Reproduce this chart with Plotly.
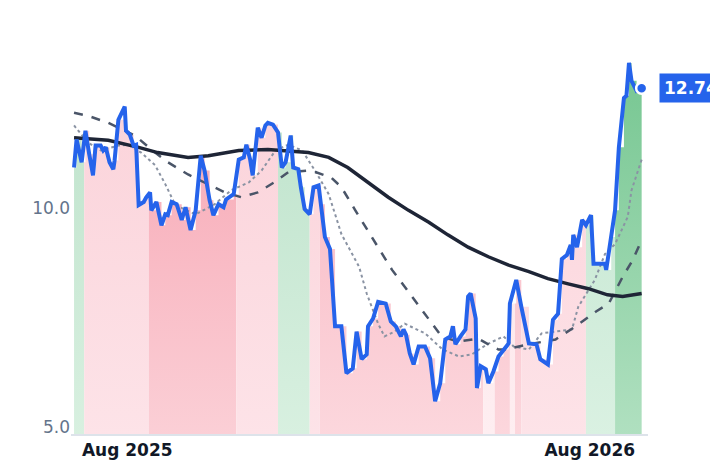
import pandas as pd
import plotly.graph_objects as go

start = pd.Timestamp("2025-06-20")

price_days = [0,2,6,9,12,15,17,21,23,25,28,31,32,35,40,41,44,47,49,51,55,57,60,61,65,69,72,74,77,81,85,88,92,96,100,103,107,110,114,118,120,126,130,134,136,139,141,145,148,151,153,157,161,164,167,171,173,177,179,182,186,189,193,195,198,202,206,211,215,220,223,227,231,232,236,240,246,250,254,258,260,262,265,268,272,277,281,285,289,293,297,299,301,305,309,311,313,317,318,321,325,327,331,335,339,343,344,349,353,359,365,368,374,378,382,385,389,392,393,394,397,401,404,408,410,419,420,424,427,430,434,436,438,440,444,448]
price = [10.93,11.57,11.05,11.77,11.23,10.75,11.43,11.43,11.32,11.39,11.05,10.89,11.09,12.02,12.32,11.77,11.68,11.43,11.45,10.07,10.14,10.25,10.36,9.95,10.14,9.61,9.86,9.84,10.14,10.09,9.73,10.02,9.50,9.95,11.20,10.86,10.18,9.84,10.09,10.02,10.20,10.32,11.11,11.16,11.45,11.11,10.75,11.84,11.61,11.89,11.95,11.91,11.73,10.93,11.05,11.66,10.93,10.89,10.48,9.98,9.86,10.48,10.52,10.09,9.34,9.07,7.30,7.30,6.23,6.34,7.18,6.55,6.66,7.30,7.48,7.86,7.82,7.41,7.30,7.07,7.23,7.11,6.68,6.43,6.84,6.84,6.57,5.59,6.00,7.00,7.07,7.30,6.89,7.07,7.23,7.98,8.05,7.48,5.89,6.39,6.32,6.00,6.27,6.61,6.77,6.91,7.82,8.36,7.75,6.91,6.89,6.55,6.43,7.45,7.59,8.84,8.93,9.16,8.82,9.39,9.11,9.73,9.61,9.84,8.73,8.73,8.59,9.34,9.95,11.39,12.52,12.57,13.32,12.91,12.68,12.74]

long_days = [0,11,27,51,66,90,106,130,153,185,201,216,232,248,264,280,295,311,327,343,359,374,390,406,421,433,448]
long_ma = [11.61,11.59,11.55,11.39,11.27,11.16,11.20,11.32,11.34,11.27,11.16,10.93,10.59,10.25,9.95,9.68,9.39,9.11,8.89,8.70,8.55,8.39,8.27,8.16,8.02,7.98,8.05]

mid_days = [0,11,27,48,64,74,90,106,119,132,145,158,169,185,191,203,211,222,235,251,264,277,290,303,319,335,327,340,359,380,396,412,422,433,441,448]
mid_ma = [12.18,12.11,11.95,11.66,11.27,11.05,10.77,10.55,10.36,10.25,10.36,10.59,10.82,10.86,10.82,10.70,10.48,9.95,9.34,8.59,8.09,7.59,7.07,6.95,7.02,6.77,6.89,6.77,6.89,7.00,7.30,7.64,7.82,8.43,8.82,9.27]
mid_pairs = sorted(zip(mid_days, mid_ma))

short_days = [0,11,21,35,43,53,64,72,80,96,111,124,138,148,159,169,180,191,201,211,225,231,240,245,253,261,277,291,304,314,326,339,347,359,369,382,393,398,411,419,427,437,440,448]
short_ma = [11.89,11.50,11.32,11.43,11.45,11.27,10.98,10.55,10.07,9.86,10.09,10.41,10.59,10.86,11.32,11.45,11.32,10.82,10.32,9.41,8.66,8.05,7.36,7.07,7.18,7.36,7.14,6.77,6.61,6.66,6.89,7.07,6.84,6.77,7.14,7.18,7.23,7.75,8.36,8.95,9.18,9.80,10.41,11.11]

# regime segments: (start day, end day, top colour, bottom colour)
seg_bounds = [0,8,59,128,161,186,194,323,332,344,348,353,404,427,448]
seg_top = ["#bfe3cc","#fbd3da","#f7a8b5","#fbd3da","#bfe3cc","#fbd3da","#f8b5c1","#fde2e6","#f8b5c1","#fde2e6","#f8b5c1","#fbd3da","#c2e5cf","#7cc996"]
seg_bot = ["#d8f0e0","#fde3e8","#fbcfd6","#fde3e8","#d8f0e0","#fde3e8","#fcd7dd","#feeef1","#fcd7dd","#feeef1","#fcd7dd","#fde3e8","#daf1e2","#b0e0c0"]

def dt(days):
    return [start + pd.Timedelta(days=int(d)) for d in days]

s = pd.Series(price, index=price_days).reindex(range(0, 449)).ffill()

fig = go.Figure()
for i in range(len(seg_top)):
    a, b = seg_bounds[i], seg_bounds[i + 1]
    dd = list(range(a, b + 1))
    yy = [s[d] for d in dd]
    fig.add_trace(go.Scatter(
        x=dt(dd), y=yy, mode="lines", line=dict(width=0, shape="hv"),
        fill="tozeroy", hoverinfo="skip", showlegend=False,
        fillgradient=dict(type="vertical", start=4.84, stop=12.5,
                          colorscale=[[0, seg_bot[i]], [1, seg_top[i]]])))

fig.add_trace(go.Scatter(x=dt(short_days), y=short_ma, mode="lines",
                         line=dict(color="#8a93a3", width=2, dash="dot"), showlegend=False))
fig.add_trace(go.Scatter(x=dt([p[0] for p in mid_pairs]), y=[p[1] for p in mid_pairs], mode="lines",
                         line=dict(color="#4a5568", width=2.5, dash="dash"), showlegend=False))
fig.add_trace(go.Scatter(x=dt(long_days), y=long_ma, mode="lines",
                         line=dict(color="#1e2536", width=3.5), showlegend=False))
fig.add_trace(go.Scatter(x=dt(price_days), y=price, mode="lines",
                         line=dict(color="#2563eb", width=4), showlegend=False))
fig.add_trace(go.Scatter(x=dt([price_days[-1]]), y=[price[-1]], mode="markers",
                         marker=dict(color="#2563eb", size=11, line=dict(color="white", width=2.5)),
                         showlegend=False))

fig.add_annotation(x=dt([price_days[-1]])[0], y=price[-1], text="<b>%.2f</b>" % price[-1],
                   showarrow=False, xanchor="left", xshift=17, font=dict(color="white", size=17, family="DejaVu Sans"),
                   bgcolor="#2563eb", borderpad=4)

fig.update_layout(
    width=718, height=464, margin=dict(l=63, r=78, t=40, b=36),
    plot_bgcolor="white", paper_bgcolor="white",
    font=dict(family="DejaVu Sans"),
    xaxis=dict(range=[start - pd.Timedelta(days=2.4), start + pd.Timedelta(days=453)],
               tickvals=[pd.Timestamp("2025-08-01"), pd.Timestamp("2026-08-01")],
               ticktext=["<b>Aug 2025</b>", "<b>Aug 2026</b>"],
               tickfont=dict(size=17, color="#111827"), showgrid=False,
               showline=True, linecolor="#dde3ea", linewidth=2, ticks=""),
    yaxis=dict(range=[4.84, 13.66], tickvals=[5, 10], ticktext=["5.0", "10.0"],
               tickfont=dict(size=17, color="#64748b"), showgrid=False, zeroline=False, ticks=""),
)
fig.write_html("out.html")
